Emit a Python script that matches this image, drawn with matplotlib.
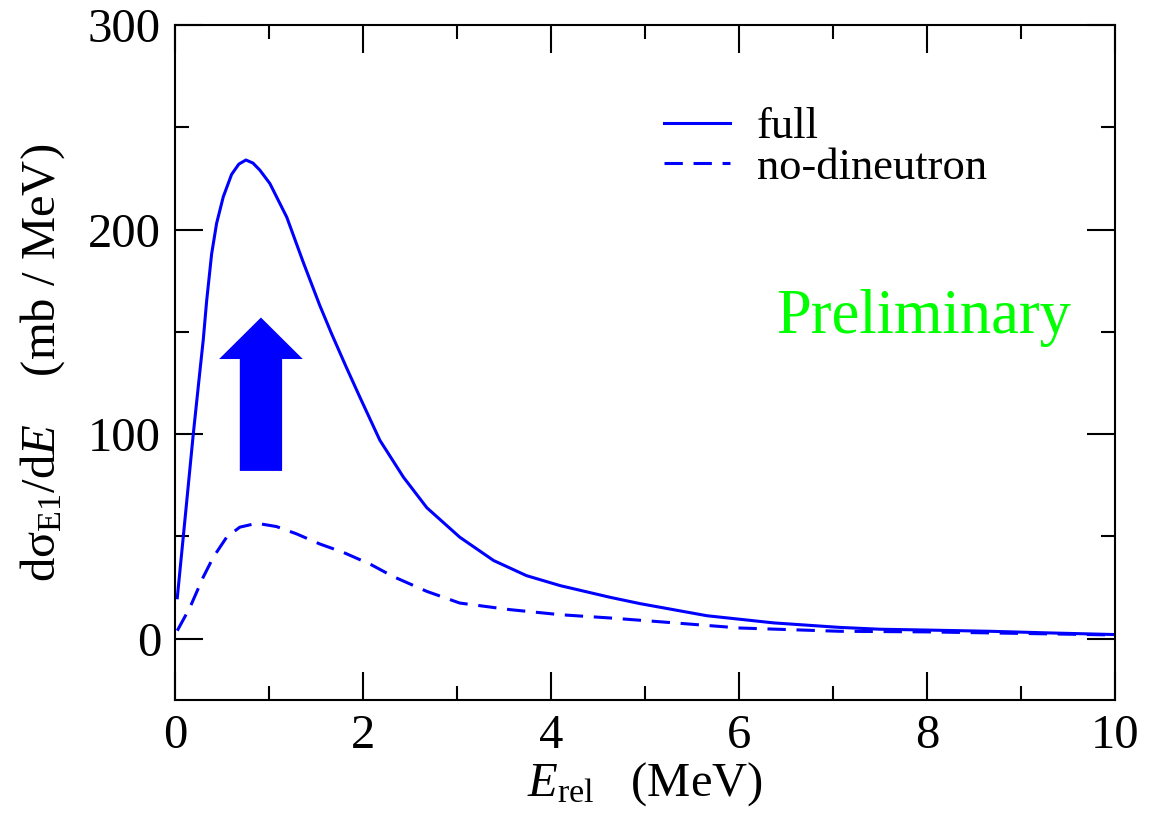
import matplotlib
matplotlib.use('Agg')
from matplotlib import pyplot as plt
from matplotlib.patches import Polygon
from matplotlib.ticker import MultipleLocator

plt.rcParams['font.family'] = ['Liberation Serif', 'DejaVu Serif']
plt.rcParams['mathtext.fontset'] = 'custom'
plt.rcParams['mathtext.rm'] = 'Liberation Serif'
plt.rcParams['mathtext.it'] = 'Liberation Serif:italic'

# full calculation
e_full = [0.025, 0.106, 0.195, 0.266, 0.301, 0.337, 0.39, 0.443, 0.514, 0.603,
          0.68, 0.755, 0.83, 0.904, 1.01, 1.19, 1.365, 1.54, 1.667, 1.82,
          1.968, 2.18, 2.43, 2.68, 3.03, 3.39, 3.74, 4.10, 4.63, 4.95,
          5.66, 6.37, 7.07, 7.5, 8.0, 8.67, 9.3, 10.0]
s_full = [20, 58, 100, 131, 146, 165, 188, 203, 216, 227,
          232, 234, 232.5, 229, 222.5, 206, 184, 163, 149, 133,
          118, 97, 79, 64, 49.6, 38.2, 30.8, 25.9, 20.2, 17.1,
          11.2, 7.7, 5.5, 4.6, 4.2, 3.6, 2.8, 2.0]

# without dineutron correlation
e_nod = [0.025, 0.16, 0.30, 0.408, 0.55, 0.69, 0.87, 1.08, 1.295, 1.54,
         1.79, 1.968, 2.07, 2.32, 2.68, 3.03, 3.56, 4.10, 4.63, 5.09,
         6.01, 7.07, 8.0, 8.67, 10.0]
s_nod = [3.9, 15.3, 30, 39.8, 49.6, 54.5, 56.4, 54.8, 51.2, 46.3,
         42.2, 38.6, 36.6, 30.4, 23.1, 17.4, 14.2, 11.7, 10.1, 8.5,
         5.2, 3.6, 3.3, 2.8, 1.8]

# big arrow (shaft x range, head x range, y levels)
arrow_shaft = (0.69, 1.14)
arrow_head = (0.47, 1.36)
arrow_y = (82, 136.7, 157)

blue = '#0000ff'

fig = plt.figure(figsize=(11.64, 8.17), dpi=100)
ax = fig.add_axes([0.1503, 0.1432, 0.8075, 0.8262])

ax.plot(e_full, s_full, color=blue, lw=2.2, label='full')
ax.plot(e_nod, s_nod, color=blue, lw=2.2, dashes=(6, 3.5), label='no-dineutron')

xm = (arrow_head[0] + arrow_head[1]) / 2
arrow = Polygon([(arrow_shaft[0], arrow_y[0]), (arrow_shaft[1], arrow_y[0]),
                 (arrow_shaft[1], arrow_y[1]), (arrow_head[1], arrow_y[1]),
                 (xm, arrow_y[2]), (arrow_head[0], arrow_y[1]),
                 (arrow_shaft[0], arrow_y[1])],
                closed=True, facecolor=blue, edgecolor='none')
ax.add_patch(arrow)

ax.text(7.97, 149.3, 'Preliminary', color='#00ff00', fontsize=45,
        ha='center', va='baseline')

ax.set_xlim(0, 10)
ax.set_ylim(-30, 300)
ax.xaxis.set_major_locator(MultipleLocator(2))
ax.xaxis.set_minor_locator(MultipleLocator(1))
ax.yaxis.set_major_locator(MultipleLocator(100))
ax.yaxis.set_minor_locator(MultipleLocator(50))
ax.tick_params(which='both', direction='in', top=True, right=True,
               width=1.5, labelsize=35, pad=10)
ax.tick_params(which='major', length=20)
ax.tick_params(which='minor', length=10)
for sp in ax.spines.values():
    sp.set_linewidth(1.5)

ax.set_xlabel(r'$E_{\rm rel}$   (MeV)', fontsize=35, labelpad=2)
ax.set_ylabel('dσ$_{\\rm E1}$/d$E$    (mb / MeV)', fontsize=35, labelpad=15)

ax.legend(loc='upper left', bbox_to_anchor=(0.52, 0.878), frameon=False,
          fontsize=32, handlelength=1.5, handletextpad=0.6,
          labelspacing=0.0, borderpad=0, borderaxespad=0)

fig.savefig('out.png', dpi=100)
